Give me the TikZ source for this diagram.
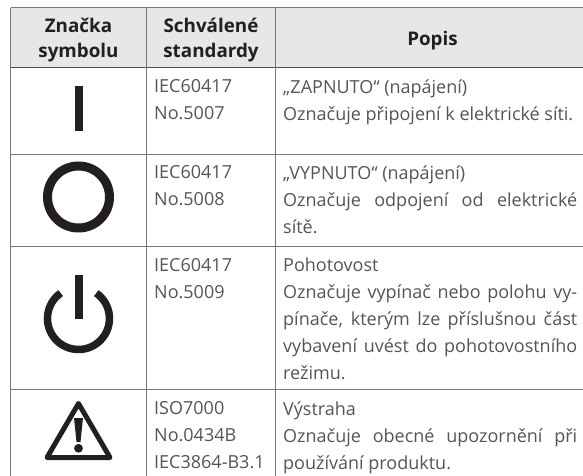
\documentclass[tikz,border=0pt]{standalone}
\usepackage{fontspec}
\setmainfont{Open Sans}
\definecolor{hdr}{RGB}{230,231,232}
\definecolor{rule}{RGB}{120,120,122}
\definecolor{ink}{RGB}{35,31,32}
\definecolor{txt}{RGB}{85,85,87}
\newcommand{\jl}[1]{\makebox[294pt][s]{#1}}
\tikzset{
  grid/.style={draw=rule,line width=1pt},
  gridd/.style={draw=ink!80,line width=1pt},
  head/.style={font=\fontsize{18.8}{25}\selectfont\bfseries,text=ink,align=center,anchor=center,inner sep=0pt},
  body/.style={font=\fontsize{18}{27}\selectfont,text=txt,align=left,anchor=north west,inner sep=0pt}
}
\begin{document}
\begin{tikzpicture}[x=1pt,y=-1pt]
\useasboundingbox (0,0) rectangle (583,476);
\fill[white] (0,0) rectangle (583,476);
\fill[hdr] (10.5,8) rectangle (583,68);
\draw[grid] (10.5,8) -- (583,8);
\draw[gridd] (10.5,68) -- (583,68);
\draw[grid] (10.5,154) -- (583,154);
\draw[grid] (10.5,246) -- (583,246);
\draw[grid] (10.5,389) -- (583,389);
\draw[grid] (10.5,8) -- (10.5,476);
\draw[grid] (146.5,8) -- (146.5,476);
\draw[grid] (275.5,8) -- (275.5,476);
\node[head] (h1) at (78.5,40.5) {Značka\\symbolu};
\node[head] (h2) at (211,40.5) {Schválené\\standardy};
\node[head] (h3) at (432.5,41) {Popis};
\node[body] (a1) at (154,79.5) {IEC60417\\No.5007};
\node[body] (a2) at (154,165.5) {IEC60417\\No.5008};
\node[body] (a3) at (154,258) {IEC60417\\No.5009};
\node[body] (a4) at (154,401.5) {ISO7000\\No.0434B\\IEC3864-B3.1};
\node[body] (b1) at (283,79.5) {„ZAPNUTO“ (napájení)\\Označuje připojení k elektrické síti.};
\node[body] (b2) at (283,165.5) {„VYPNUTO“ (napájení)\\\jl{Označuje odpojení od elektrické}\\sítě.};
\node[body] (b3) at (283,258) {Pohotovost\\\jl{Označuje vypínač nebo polohu vy-}\\\jl{pínače, kterým lze příslušnou část}\\\jl{vybavení uvést do pohotovostního}\\režimu.};
\node[body] (b4) at (283,401.5) {Výstraha\\\jl{Označuje obecné upozornění při}\\používání produktu.};
% symbols
\fill[ink] (75,86) rectangle (83,131);
\draw[ink,line width=9pt] (78.5,197) circle (31);
\fill[ink] (75,275) rectangle (82.7,319);
\draw[ink,line width=7.5pt] (60.7,293.1) arc[start angle=235,end angle=-55,radius=31];
\draw[ink,line width=5pt,line join=round] (78.5,403.5) -- (47,457.5) -- (110,457.5) -- cycle;
\fill[ink] (74,418) -- (83,418) -- (80.5,442) -- (76.5,442) -- cycle;
\fill[ink] (78.5,448.3) circle (4.4);
\end{tikzpicture}
\end{document}
